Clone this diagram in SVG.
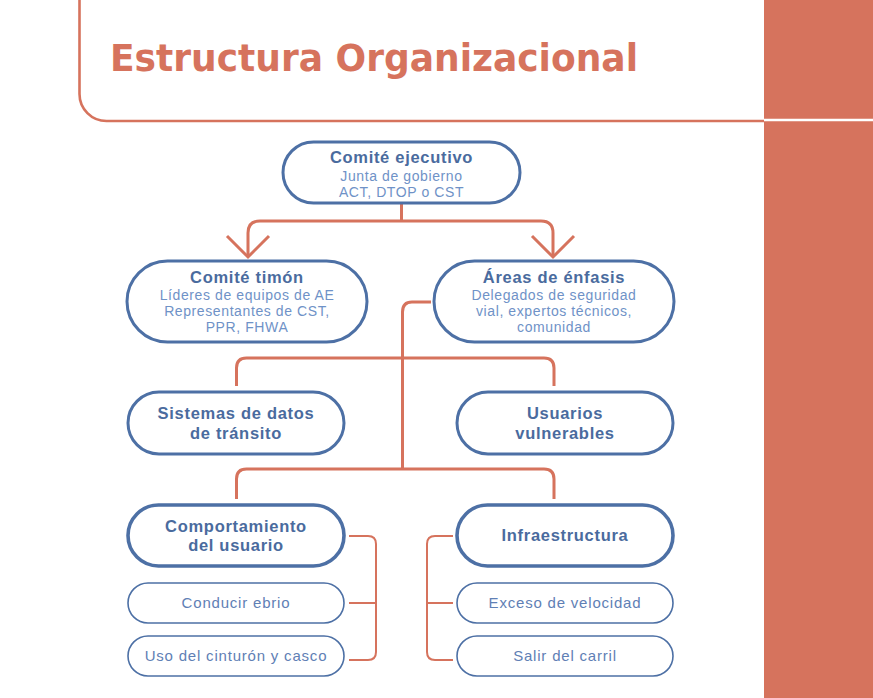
<svg xmlns="http://www.w3.org/2000/svg" width="873" height="698" viewBox="0 0 873 698">
<style>
.pill{fill:#fff;stroke:#4D70A5;stroke-width:3}
.leaf{fill:#fff;stroke:#4D70A5;stroke-width:1.6}
.thick{stroke-width:3.6}
.t{font-family:"Liberation Sans",Arial,sans-serif;font-weight:700;font-size:16.5px;letter-spacing:0.7px;fill:#4A6B9E;text-anchor:middle}
.s{font-family:"Liberation Sans",Arial,sans-serif;font-size:14px;letter-spacing:0.6px;fill:#6F92C7;text-anchor:middle}
.l{font-family:"Liberation Sans",Arial,sans-serif;font-size:15px;letter-spacing:0.8px;fill:#5F80B5;text-anchor:middle}
.c{fill:none;stroke:#D6735D;stroke-width:3;stroke-linecap:butt}
.b{fill:none;stroke:#D6735D;stroke-width:2}
.title{font-family:"DejaVu Sans Condensed","DejaVu Sans",sans-serif;font-weight:700;font-size:37px;fill:#D6735D}
</style>
<rect width="873" height="698" fill="#fff"/>
<g id="header">
<rect x="764" y="0" width="109" height="698" fill="#D6735D"/>
<line x1="764" y1="120" x2="873" y2="120" stroke="#fff" stroke-width="2.5"/>
<path d="M79.5,0 V94 A27,27 0 0 0 106.5,121 H764" fill="none" stroke="#D6735D" stroke-width="2.6"/>
<text class="title" x="110" y="71" textLength="528" lengthAdjust="spacingAndGlyphs">Estructura Organizacional</text>
</g>
<g id="connectors">
<path class="c" d="M401.5,203 V221"/>
<path class="c" d="M248,256 V233 Q248,221 260,221 H541 Q553,221 553,233 V256"/>
<path class="c" d="M227,236 L248,257 L269,236"/>
<path class="c" d="M532,236 L553,257 L574,236"/>
<path class="c" d="M431,302 H412 Q402.5,302 402.5,312 V469"/>
<path class="c" d="M236.5,386 V368 Q236.5,358 246.5,358 H544 Q554,358 554,368 V386"/>
<path class="c" d="M236.5,499 V479 Q236.5,469 246.5,469 H544 Q554,469 554,479 V499"/>
<path class="b" d="M349,536 H368 Q376,536 376,544 V652 Q376,660 368,660 H349 M349,603 H376"/>
<path class="b" d="M453,536 H435 Q427,536 427,544 V652 Q427,660 435,660 H453 M427,603 H453"/>
</g>
<g id="comite-ejecutivo">
<rect class="pill" x="283" y="142" width="237" height="61" rx="30.5"/>
<text class="t" x="401.5" y="163">Comité ejecutivo</text>
<text class="s" x="401.5" y="181">Junta de gobierno</text>
<text class="s" x="401.5" y="197">ACT, DTOP o CST</text>
</g>
<g id="comite-timon">
<rect class="pill" x="127" y="261" width="240" height="81" rx="40.5"/>
<text class="t" x="247" y="283">Comité timón</text>
<text class="s" x="247" y="300">Líderes de equipos de AE</text>
<text class="s" x="247" y="316">Representantes de CST,</text>
<text class="s" x="247" y="332">PPR, FHWA</text>
</g>
<g id="areas-enfasis">
<rect class="pill" x="434" y="261" width="240" height="81" rx="40.5"/>
<text class="t" x="554" y="283">Áreas de énfasis</text>
<text class="s" x="554" y="300">Delegados de seguridad</text>
<text class="s" x="554" y="316">vial, expertos técnicos,</text>
<text class="s" x="554" y="332">comunidad</text>
</g>
<g id="sistemas-datos">
<rect class="pill" x="128" y="392" width="216" height="62" rx="31"/>
<text class="t" x="236" y="419">Sistemas de datos</text>
<text class="t" x="236" y="439">de tránsito</text>
</g>
<g id="usuarios-vulnerables">
<rect class="pill" x="457" y="392" width="216" height="62" rx="31"/>
<text class="t" x="565" y="419">Usuarios</text>
<text class="t" x="565" y="439">vulnerables</text>
</g>
<g id="comportamiento">
<rect class="pill thick" x="128" y="505" width="216" height="61" rx="30.5"/>
<text class="t" x="236" y="532">Comportamiento</text>
<text class="t" x="236" y="551">del usuario</text>
</g>
<g id="infraestructura">
<rect class="pill thick" x="457" y="505" width="216" height="61" rx="30.5"/>
<text class="t" x="565" y="541">Infraestructura</text>
</g>
<g id="conducir-ebrio">
<rect class="leaf" x="128" y="583" width="216" height="40" rx="20"/>
<text class="l" x="236" y="608">Conducir ebrio</text>
</g>
<g id="uso-cinturon">
<rect class="leaf" x="128" y="636" width="216" height="40" rx="20"/>
<text class="l" x="236" y="661">Uso del cinturón y casco</text>
</g>
<g id="exceso-velocidad">
<rect class="leaf" x="457" y="583" width="216" height="40" rx="20"/>
<text class="l" x="565" y="608">Exceso de velocidad</text>
</g>
<g id="salir-carril">
<rect class="leaf" x="457" y="636" width="216" height="40" rx="20"/>
<text class="l" x="565" y="661">Salir del carril</text>
</g>
</svg>
